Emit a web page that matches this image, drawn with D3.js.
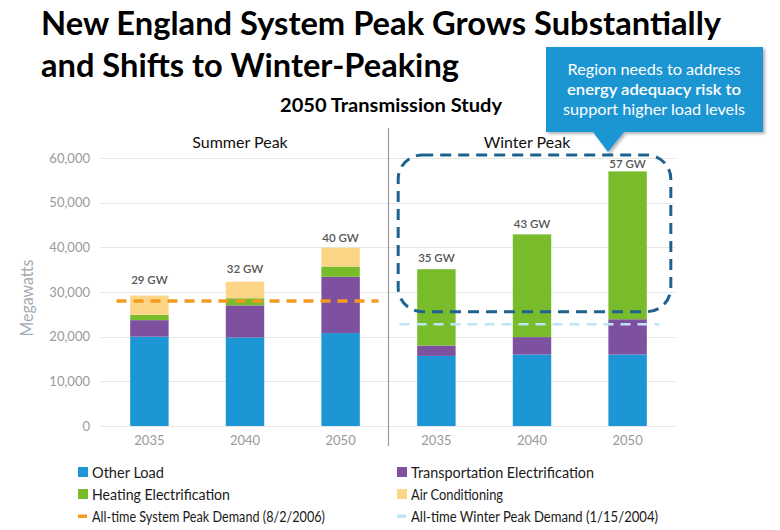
<!DOCTYPE html>
<html>
<head>
<meta charset="utf-8">
<script src="https://cdn.jsdelivr.net/npm/d3@7"></script>
<style>
  html, body { margin: 0; padding: 0; background: #fff; }
  svg { display: block; font-family: Lato, "Open Sans", sans-serif; }
</style>
</head>
<body>
<svg id="chart" width="780" height="530"></svg>
<script>
// ---------- data ----------
const panels = ["Summer Peak", "Winter Peak"];
const years = ["2035", "2040", "2050"];
const seriesNames = ["Other Load", "Transportation Electrification", "Heating Electrification", "Air Conditioning"];
const otherLoadSummer = [20000, 19800, 20800];
const transportSummer = [3700, 7200, 12600];
const heatingSummer = [1200, 1600, 2300];
const airCondSummer = [4300, 3700, 4200];
const otherLoadWinter = [15700, 16000, 16000];
const transportWinter = [2300, 3900, 7900];
const heatingWinter = [17100, 23000, 33100];
const airCondWinter = [0, 0, 0];
const totalLabelsSummer = ["29 GW", "32 GW", "40 GW"];
const totalLabelsWinter = ["35 GW", "43 GW", "57 GW"];
const yTicks = [0, 10000, 20000, 30000, 40000, 50000, 60000];
const systemPeak = 28000;   // All-time System Peak Demand (8/2/2006)
const winterPeak = 22800;   // All-time Winter Peak Demand (1/15/2004)
const legendItems = ["Other Load", "Transportation Electrification", "Heating Electrification", "Air Conditioning",
  "All-time System Peak Demand (8/2/2006)", "All-time Winter Peak Demand (1/15/2004)"];
const calloutLines = ["Region needs to address", "energy adequacy risk to", "support higher load levels"];

// ---------- styles ----------
const colors = {
  "Other Load": "#1c96d4",
  "Transportation Electrification": "#7e50a0",
  "Heating Electrification": "#78bc2b",
  "Air Conditioning": "#fdd587"
};
const orange = "#f39a1f";
const lightBlue = "#bfe4f5";
// vertical gap between bar top and its total label (layout only)
const labelGap = { "Summer Peak": [12, 9, 6], "Winter Peak": [7, 6, 3] };

const svg = d3.select("#chart");

// ---------- build table ----------
function rows(o, t, h, a) {
  return years.map((yr, i) => ({
    year: yr,
    "Other Load": o[i],
    "Transportation Electrification": t[i],
    "Heating Electrification": h[i],
    "Air Conditioning": a[i]
  }));
}
const panelData = {
  "Summer Peak": { rows: rows(otherLoadSummer, transportSummer, heatingSummer, airCondSummer), labels: totalLabelsSummer },
  "Winter Peak": { rows: rows(otherLoadWinter, transportWinter, heatingWinter, airCondWinter), labels: totalLabelsWinter }
};

// ---------- scales ----------
const y = d3.scaleLinear().domain([0, 60000]).range([426, 158]);
const xOuter = d3.scaleBand().domain(panels).range([101.5, 675.5]).padding(0);
const xInner = d3.scaleBand().domain(years).range([0, xOuter.bandwidth()]).paddingInner(0.598).paddingOuter(0.3);

// ---------- gridlines + y axis ----------
const yAxis = d3.axisLeft(y).tickValues(yTicks).tickFormat(d3.format(",")).tickSize(0).tickPadding(10);
const gy = svg.append("g").attr("transform", "translate(100,0)").call(yAxis);
gy.select(".domain").remove();
gy.selectAll("text").attr("fill", "#9a9a9a").style("font-size", "13px").style("font-family", "Lato, sans-serif");
svg.append("g").selectAll("line").data(yTicks).join("line")
  .attr("x1", 100).attr("x2", 675)
  .attr("y1", d => Math.round(y(d)) + 0.5).attr("y2", d => Math.round(y(d)) + 0.5)
  .attr("stroke", "#e6e6e6").attr("stroke-width", 1);

svg.append("text")
  .attr("transform", `translate(33,${(y(0) + y(60000)) / 2 + 6}) rotate(-90)`)
  .attr("text-anchor", "middle")
  .attr("fill", "#a3abb3").style("font-size", "17.5px")
  .attr("textLength", 77).attr("lengthAdjust", "spacingAndGlyphs")
  .text("Megawatts");

// ---------- divider ----------
const divX = Math.round(xOuter("Winter Peak")) - 1;
svg.append("line").attr("x1", divX + 0.5).attr("x2", divX + 0.5).attr("y1", 128).attr("y2", 446)
  .attr("stroke", "#9a9a9a").attr("stroke-width", 1.2);

// ---------- bars ----------
const stack = d3.stack().keys(seriesNames);
panels.forEach(p => {
  const g = svg.append("g").attr("transform", `translate(${xOuter(p)},0)`);
  const stacked = stack(panelData[p].rows);
  g.selectAll("g.s").data(stacked).join("g").attr("class", "s")
    .attr("fill", d => colors[d.key])
    .selectAll("rect").data(d => d).join("rect")
    .attr("x", d => xInner(d.data.year))
    .attr("width", xInner.bandwidth())
    .attr("y", d => y(d[1]))
    .attr("height", d => Math.max(0, y(d[0]) - y(d[1])));
  const last = stacked[stacked.length - 1];
  g.selectAll("text.tot").data(last).join("text").attr("class", "tot")
    .attr("x", d => xInner(d.data.year) + xInner.bandwidth() / 2)
    .attr("y", (d, i) => y(d[1]) - labelGap[p][i])
    .attr("text-anchor", "middle")
    .attr("fill", "#555").style("font-size", "11.5px").style("font-weight", 600)
    .text((d, i) => panelData[p].labels[i]);
  // x axis labels
  const xAxis = d3.axisBottom(xInner).tickSize(0).tickPadding(10);
  const gx = g.append("g").attr("transform", `translate(0,${y(0)})`).call(xAxis);
  gx.select(".domain").remove();
  gx.selectAll("text").attr("fill", "#9a9a9a").style("font-size", "13px").style("font-family", "Lato, sans-serif");
  // panel title
  svg.append("text")
    .attr("x", xOuter(p) + xOuter.bandwidth() / 2 - 5)
    .attr("y", 148).attr("text-anchor", "middle")
    .attr("fill", "#111").style("font-size", "16px")
    .text(p);
});

// ---------- reference lines ----------
svg.append("line")
  .attr("x1", xOuter("Summer Peak") + 15).attr("x2", xOuter("Summer Peak") + xOuter.bandwidth() - 10)
  .attr("y1", y(systemPeak)).attr("y2", y(systemPeak))
  .attr("stroke", orange).attr("stroke-width", 3.5).attr("stroke-dasharray", "10 7");
svg.append("line")
  .attr("x1", xOuter("Winter Peak") + 11).attr("x2", xOuter("Winter Peak") + 271)
  .attr("y1", y(winterPeak)).attr("y2", y(winterPeak))
  .attr("stroke", lightBlue).attr("stroke-width", 2.5).attr("stroke-dasharray", "10 7");

// ---------- dashed highlight box ----------
const bx0 = xOuter("Winter Peak") + xInner("2035") - 19;
const bx1 = xOuter("Winter Peak") + xInner("2050") + xInner.bandwidth() + 24;
const by0 = y(60000) - 3;
const by1 = y(25600);
svg.append("rect")
  .attr("x", bx0).attr("y", by0).attr("width", bx1 - bx0).attr("height", by1 - by0)
  .attr("rx", 24).attr("ry", 24)
  .attr("fill", "none").attr("stroke", "#1f628f").attr("stroke-width", 3)
  .attr("stroke-dasharray", "11 7");

// ---------- callout ----------
const defs = svg.append("defs");
const f = defs.append("filter").attr("id", "sh").attr("x", "-10%").attr("y", "-10%").attr("width", "130%").attr("height", "140%");
f.append("feDropShadow").attr("dx", 2).attr("dy", 2).attr("stdDeviation", 1.5).attr("flood-color", "#000").attr("flood-opacity", 0.3);
const cx0 = 546, cx1 = 763, cy0 = 47, cy1 = 132;
svg.append("path")
  .attr("d", `M${cx0},${cy0} H${cx1} V${cy1} H624 L608,152 L593,${cy1} H${cx0} Z`)
  .attr("fill", "#1a95d3").attr("filter", "url(#sh)");
svg.append("g").selectAll("text").data(calloutLines).join("text")
  .attr("x", 654).attr("y", (d, i) => 75 + i * 20)
  .attr("text-anchor", "middle").attr("fill", "#fff")
  .style("font-size", "15.5px").style("font-weight", (d, i) => i === 1 ? 600 : 400)
  .attr("textLength", (d, i) => [173, 174, 182][i]).attr("lengthAdjust", "spacingAndGlyphs")
  .text(d => d);

// ---------- titles ----------
svg.append("text").attr("x", 41).attr("y", 35)
  .attr("fill", "#000").style("font-size", "33px").style("font-weight", 700)
  .attr("textLength", 680).attr("lengthAdjust", "spacingAndGlyphs")
  .text("New England System Peak Grows Substantially");
svg.append("text").attr("x", 41).attr("y", 77)
  .attr("fill", "#000").style("font-size", "33px").style("font-weight", 700)
  .attr("textLength", 418).attr("lengthAdjust", "spacingAndGlyphs")
  .text("and Shifts to Winter-Peaking");
svg.append("text").attr("x", 280).attr("y", 112)
  .attr("fill", "#000").style("font-size", "19px").style("font-weight", 700)
  .attr("textLength", 222).attr("lengthAdjust", "spacingAndGlyphs")
  .text("2050 Transmission Study");

// ---------- legend ----------
const legendX = [78, 397];
const legendY = [472, 494, 516];
const legendW = [72, 183, 138, 92, 233, 247];
const lg = svg.append("g").selectAll("g").data(legendItems).join("g")
  .attr("transform", (d, i) => `translate(${legendX[i % 2]},${legendY[Math.floor(i / 2)]})`);
lg.each(function (d, i) {
  const g = d3.select(this);
  if (i < 4) {
    g.append("rect").attr("x", 0).attr("y", -5).attr("width", 10).attr("height", 10).attr("fill", colors[d]);
  } else {
    g.append("rect").attr("x", 0).attr("y", -1.5).attr("width", 9).attr("height", 3.5)
      .attr("fill", i === 4 ? orange : lightBlue);
  }
  g.append("text").attr("x", 14).attr("y", 5.5)
    .attr("fill", "#1a1a1a").style("font-size", "14.5px")
    .attr("textLength", legendW[i]).attr("lengthAdjust", "spacingAndGlyphs")
    .text(d);
});
</script>
</body>
</html>
